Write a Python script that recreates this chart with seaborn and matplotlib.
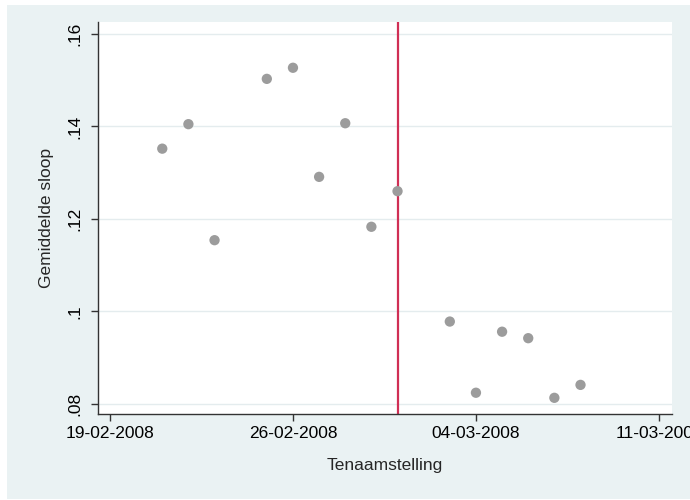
import pandas as pd
import seaborn as sns
import matplotlib.pyplot as plt
from matplotlib.patches import Rectangle

# Data
dates = ["2008-02-21", "2008-02-22", "2008-02-23", "2008-02-25", "2008-02-26",
         "2008-02-27", "2008-02-28", "2008-02-29", "2008-03-01", "2008-03-03",
         "2008-03-04", "2008-03-05", "2008-03-06", "2008-03-07", "2008-03-08"]
sloop = [0.1352, 0.1405, 0.1154, 0.1503, 0.1527,
         0.1291, 0.1407, 0.1183, 0.1260, 0.0978,
         0.0824, 0.0956, 0.0942, 0.0813, 0.0841]
cutoff_date = "2008-03-01"
x_ticks = ["2008-02-19", "2008-02-26", "2008-03-04", "2008-03-11"]
y_ticks = [0.08, 0.10, 0.12, 0.14, 0.16]
y_ticklabels = [".08", ".1", ".12", ".14", ".16"]

df = pd.DataFrame({"Tenaamstelling": pd.to_datetime(dates), "Gemiddelde sloop": sloop})

sns.set_theme(style="white")
plt.rcParams["font.family"] = ["Liberation Sans", "DejaVu Sans"]

bg = "#EAF2F3"
fig = plt.figure(figsize=(6.9, 5), dpi=100, facecolor="white")
# Stata style outer region
fig.patches.append(Rectangle((7 / 690, 1 / 500), 1 - 7 / 690, 1 - 6 / 500,
                             transform=fig.transFigure, facecolor=bg,
                             edgecolor="none", zorder=-10))
ax = fig.add_axes([98 / 690, 86 / 500, 574 / 690, 392 / 500])
ax.set_facecolor("white")

# gridlines
for yv in y_ticks:
    ax.axhline(yv, color="#E4ECEE", lw=1.0, zorder=0)

ax.axvline(pd.Timestamp(cutoff_date), color="#D02F55", lw=1.6, zorder=1)

sns.scatterplot(data=df, x="Tenaamstelling", y="Gemiddelde sloop", ax=ax,
                color="#9C9C9C", s=55, edgecolor="none", zorder=3)

xt = pd.to_datetime(x_ticks)
ax.set_xticks(xt)
ax.set_xticklabels([d.strftime("%d-%m-%Y") for d in xt], fontsize=12.5)
ax.set_xlim(xt[0] - pd.Timedelta(hours=11), xt[-1] + pd.Timedelta(hours=12))

ax.set_yticks(y_ticks)
ax.set_yticklabels(y_ticklabels, fontsize=12.5, rotation=90, va="center")
ax.set_ylim(0.0778, 0.1626)

ax.tick_params(axis="both", direction="out", length=5, width=1, color="#333333",
               labelcolor="black", bottom=True, left=True)
ax.tick_params(axis="y", pad=6)
ax.tick_params(axis="x", pad=4)

for side in ["top", "right"]:
    ax.spines[side].set_visible(False)
for side in ["left", "bottom"]:
    ax.spines[side].set_color("#333333")
    ax.spines[side].set_linewidth(1)

ax.set_xlabel("Tenaamstelling", fontsize=12.5, labelpad=12)
ax.set_ylabel("Gemiddelde sloop", fontsize=12.5, labelpad=10)

fig.savefig("out.png", dpi=100, facecolor="white")
